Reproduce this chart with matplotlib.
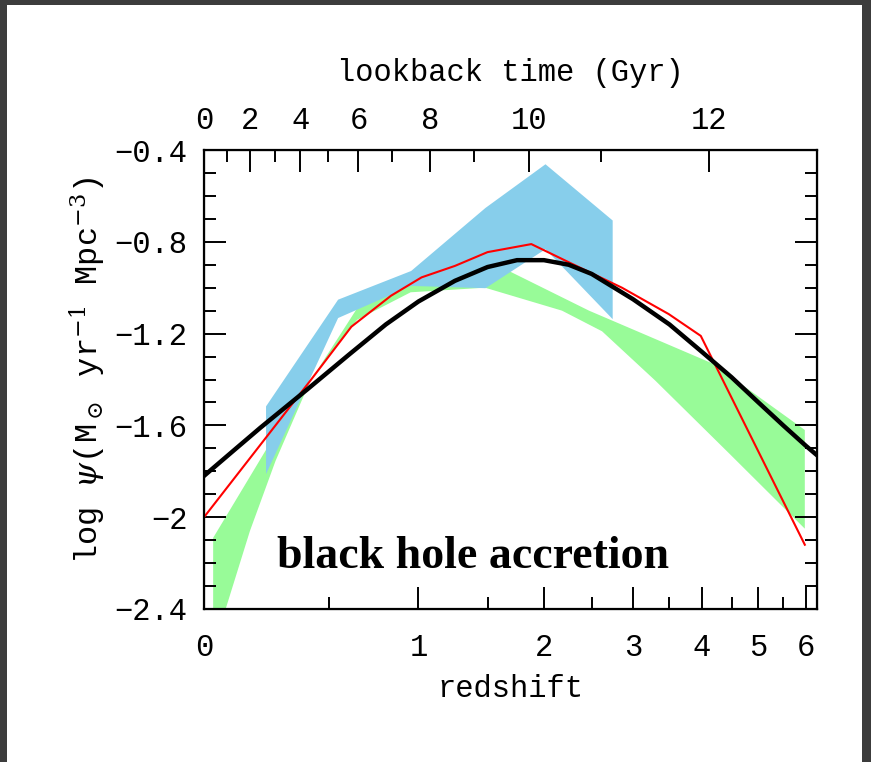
import numpy as np
import matplotlib
matplotlib.use("Agg")
import matplotlib.pyplot as plt
from matplotlib.patches import Rectangle

# values (log psi vs redshift)
bh_z = [0, 0.1, 0.2, 0.4, 0.6, 0.8, 1.0, 1.25, 1.5, 1.75, 2.0, 2.25, 2.5,
        3.0, 3.5, 4.0, 4.5, 5.0, 5.5, 6.0, 6.25]
bh_logpsi = [-1.82, -1.71, -1.61, -1.44, -1.29, -1.16, -1.06, -0.97, -0.91,
             -0.88, -0.88, -0.90, -0.94, -1.05, -1.16, -1.28, -1.39, -1.50,
             -1.60, -1.69, -1.73]

red_z = [0, 0.41, 0.61, 0.83, 1.02, 1.25, 1.5, 1.88, 2.28, 2.86, 3.49, 3.98, 5.97]
red_logpsi = [-2.0, -1.405, -1.17, -1.035, -0.955, -0.905, -0.845, -0.81,
              -0.895, -1.0, -1.115, -1.21, -2.12]

blue_z = [0.22, 0.54, 0.95, 1.48, 2.01, 2.74]
blue_hi = [-1.515, -1.05, -0.925, -0.65, -0.46, -0.705]
blue_lo = [-1.81, -1.13, -0.99, -1.0, -0.83, -1.135]

green_z_hi = [0.03, 0.22, 0.64, 0.95, 1.69, 2.47, 4.17, 5.97]
green_hi = [-2.09, -1.71, -1.09, -0.975, -0.93, -1.10, -1.33, -1.62]
green_z_lo = [0.03, 0.07, 0.16, 0.26, 0.41, 0.64, 0.95, 1.48, 2.18, 2.62,
              3.3, 4.47, 5.97]
green_lo = [-2.5, -2.41, -2.06, -1.755, -1.405, -1.14, -1.02, -1.0, -1.1,
            -1.19, -1.405, -1.725, -2.05]

z_ticks = [0, 1, 2, 3, 4, 5, 6]
z_minor = [0.5, 1.5, 2.5, 3.5, 4.5, 5.5]
t_ticks = [0, 2, 4, 6, 8, 10, 12]
t_minor = [1, 3, 5, 7, 9, 11]
y_ticks = [-0.4, -0.8, -1.2, -1.6, -2.0, -2.4]
y_labels = ['\u22120.4', '\u22120.8', '\u22121.2', '\u22121.6', '\u22122', '\u22122.4']


# lookback time (Gyr), flat LCDM h=0.7, Om=0.3
def z_of_lookback(t):
    zg = np.linspace(0, 20, 20001)
    f = 1.0 / ((1 + zg) * np.sqrt(0.3 * (1 + zg) ** 3 + 0.7))
    tl = np.concatenate([[0], np.cumsum(0.5 * (f[1:] + f[:-1]) * np.diff(zg))])
    tl *= 977.79 / 70.0
    return np.interp(t, tl, zg)


def fwd(z):
    return np.log10(1 + np.asarray(z))


def inv(u):
    return 10 ** np.asarray(u) - 1


plt.rcParams['font.family'] = ['Liberation Mono', 'DejaVu Sans Mono']
plt.rcParams['mathtext.fontset'] = 'dejavuserif'

fig = plt.figure(figsize=(8.71, 7.62), dpi=100)
ax = fig.add_axes([204 / 871, 1 - 609 / 762, 613 / 871, 459 / 762])
ax.set_xscale('function', functions=(fwd, inv))

ax.fill(np.concatenate([green_z_hi, green_z_lo[::-1]]),
        np.concatenate([green_hi, green_lo[::-1]]),
        color='#98fb98', lw=0, zorder=1)
ax.fill_between(blue_z, blue_lo, blue_hi, color='#87ceeb', lw=0, zorder=2)
ax.plot(red_z, red_logpsi, color='red', lw=1.5, zorder=3)
ax.plot(bh_z, bh_logpsi, color='black', lw=3.2, zorder=4)

ax.set_xlim(0, 6.25)
ax.set_ylim(-2.4, -0.4)

ax.set_xticks(z_ticks)
ax.set_xticklabels([str(v) for v in z_ticks])
ax.set_xticks(z_minor, minor=True)
ax.set_yticks(y_ticks)
ax.set_yticklabels(y_labels)
ax.set_yticks(np.arange(-2.4, -0.35, 0.1), minor=True)
ax.tick_params(which='both', direction='in', top=False, right=True,
               width=1.4, labelsize=22)
ax.tick_params(which='major', length=16)
ax.tick_params(which='minor', length=8.5)
ax.tick_params(axis='x', pad=17)
ax.tick_params(axis='y', pad=12)
for s in ax.spines.values():
    s.set_linewidth(1.6)

ax.set_xlabel('redshift', fontsize=22, labelpad=8)
ax.set_ylabel(r'log $\psi$(M$_\odot$ yr$^{-1}$ Mpc$^{-3}$)', fontsize=23)
ax.yaxis.set_label_coords(-0.157, 0.52)

ax2 = ax.twiny()
ax2.set_xscale('function', functions=(fwd, inv))
ax2.set_xlim(ax.get_xlim())
ax2.set_xticks(z_of_lookback(t_ticks))
ax2.set_xticklabels([str(t) for t in t_ticks])
ax2.set_xticks(z_of_lookback(t_minor), minor=True)
ax2.tick_params(which='both', direction='in', width=1.4, labelsize=22, pad=10)
ax2.tick_params(which='major', length=16)
ax2.tick_params(which='minor', length=8.5)
ax2.set_xlabel('lookback time (Gyr)', fontsize=22, labelpad=18)

ax.text(0.119, 0.089, 'black hole accretion', transform=ax.transAxes,
        family='Liberation Serif', weight='bold', fontsize=33, va='baseline',
        zorder=5)

# dark screenshot border
for r in [(0, 0, 7 / 871, 1), (1 - 9 / 871, 0, 9 / 871, 1), (0, 1 - 5 / 762, 1, 5 / 762)]:
    fig.add_artist(Rectangle(r[:2], r[2], r[3], transform=fig.transFigure,
                             color='#3c3c3c', lw=0))

fig.savefig('out.png', dpi=100)
